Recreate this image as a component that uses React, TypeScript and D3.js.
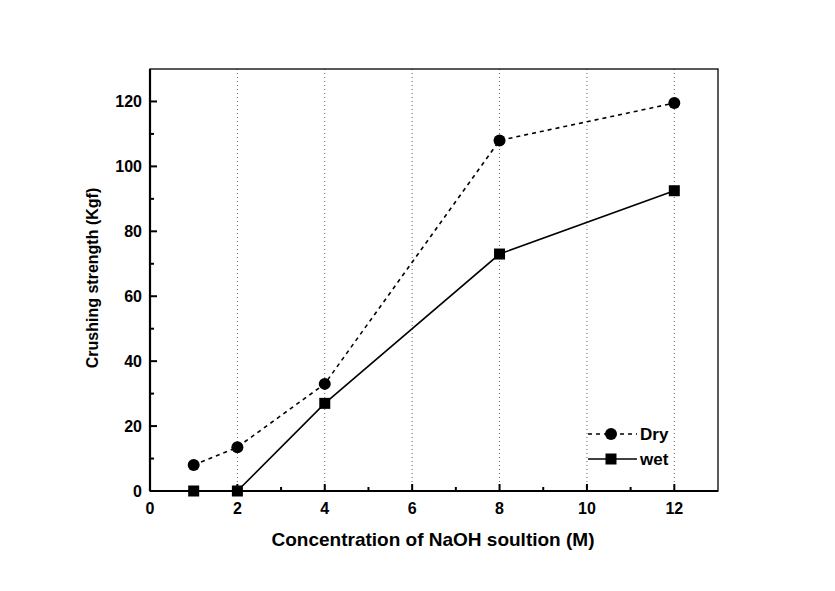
import React from "react";
import * as d3 from "d3";

const concentrations = [1, 2, 4, 8, 12];
const dryValues = [8, 13.5, 33, 108, 119.5];
const wetValues = [0, 0, 27, 73, 92.5];
const xTicks = [0, 2, 4, 6, 8, 10, 12];
const xMinor = [1, 3, 5, 7, 9, 11];
const yTicks = [0, 20, 40, 60, 80, 100, 120];
const yMinor = [10, 30, 50, 70, 90, 110];
const gridX = [2, 4, 6, 8, 10, 12];

export default function App() {
  const W = 835, H = 591;
  const left = 150, right = 718, top = 69, bottom = 491;
  const x = d3.scaleLinear().domain([0, 13]).range([left, right]);
  const y = d3.scaleLinear().domain([0, 130]).range([bottom, top]);
  const dry = concentrations.map((c, i) => [c, dryValues[i]] as [number, number]);
  const wet = concentrations.map((c, i) => [c, wetValues[i]] as [number, number]);
  const line = d3.line<[number, number]>().x(d => x(d[0])).y(d => y(d[1]));
  const font = "Arial, 'Liberation Sans', sans-serif";
  return (
    <svg width={W} height={H} style={{ position: "absolute", left: 0, top: 0, background: "#fff" }}>
      <rect x={0} y={0} width={W} height={H} fill="#fff" />
      {gridX.map(v => (
        <line key={"g" + v} x1={x(v)} x2={x(v)} y1={top} y2={bottom} stroke="#666" strokeWidth={1} strokeDasharray="1,3" />
      ))}
      <rect x={left} y={top} width={right - left} height={bottom - top} fill="none" stroke="#000" strokeWidth={1.3} />
      <line x1={left} x2={left} y1={top} y2={bottom} stroke="#000" strokeWidth={2.2} />
      <line x1={left} x2={right} y1={bottom} y2={bottom} stroke="#000" strokeWidth={2.2} />
      {xTicks.map(v => (
        <g key={"xt" + v}>
          <line x1={x(v)} x2={x(v)} y1={bottom} y2={bottom - 7} stroke="#000" strokeWidth={2} />
          <text x={x(v)} y={bottom + 23} textAnchor="middle" fontFamily={font} fontWeight="bold" fontSize={16}>{v}</text>
        </g>
      ))}
      {xMinor.map(v => (
        <line key={"xm" + v} x1={x(v)} x2={x(v)} y1={bottom} y2={bottom - 4} stroke="#000" strokeWidth={2} />
      ))}
      {yTicks.map(v => (
        <g key={"yt" + v}>
          <line x1={left} x2={left + 7} y1={y(v)} y2={y(v)} stroke="#000" strokeWidth={2} />
          <text x={left - 8} y={y(v) + 6} textAnchor="end" fontFamily={font} fontWeight="bold" fontSize={16}>{v}</text>
        </g>
      ))}
      {yMinor.map(v => (
        <line key={"ym" + v} x1={left} x2={left + 4} y1={y(v)} y2={y(v)} stroke="#000" strokeWidth={2} />
      ))}
      <path d={line(dry) || ""} fill="none" stroke="#000" strokeWidth={1.6} strokeDasharray="4,4" />
      <path d={line(wet) || ""} fill="none" stroke="#000" strokeWidth={1.6} />
      {dry.map((d, i) => (
        <circle key={"dc" + i} cx={x(d[0])} cy={y(d[1])} r={6} fill="#000" />
      ))}
      {wet.map((d, i) => (
        <rect key={"wr" + i} x={x(d[0]) - 5.5} y={y(d[1]) - 5.5} width={11} height={11} fill="#000" />
      ))}
      <g>
        <line x1={588} x2={637} y1={434} y2={434} stroke="#000" strokeWidth={1.6} strokeDasharray="4,4" />
        <circle cx={611} cy={434} r={6} fill="#000" />
        <text x={640} y={440} fontFamily={font} fontWeight="bold" fontSize={17}>Dry</text>
        <line x1={588} x2={637} y1={459} y2={459} stroke="#000" strokeWidth={1.6} />
        <rect x={605.5} y={453.5} width={11} height={11} fill="#000" />
        <text x={640} y={465} fontFamily={font} fontWeight="bold" fontSize={17}>wet</text>
      </g>
      <text x={433} y={546} textAnchor="middle" fontFamily={font} fontWeight="bold" fontSize={19}>Concentration of NaOH soultion (M)</text>
      <text transform={`translate(98, 278) rotate(-90)`} textAnchor="middle" fontFamily={font} fontWeight="bold" fontSize={16}>Crushing strength (Kgf)</text>
    </svg>
  );
}
